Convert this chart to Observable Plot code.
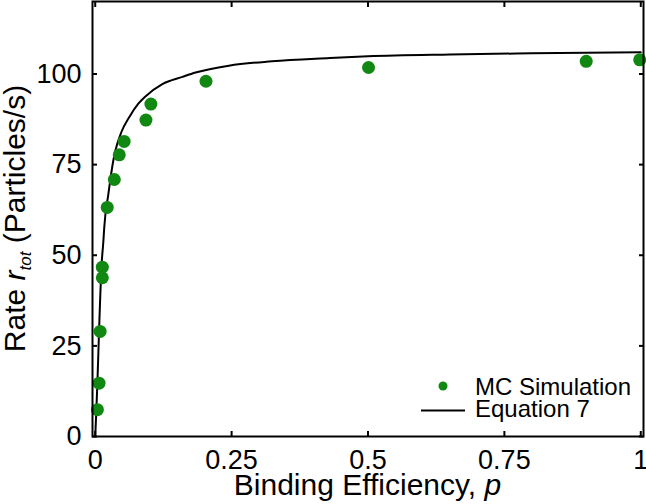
<!DOCTYPE html>
<html>
<head>
<meta charset="utf-8">
<script src="https://cdn.jsdelivr.net/npm/d3@7"></script>
<script src="https://cdn.jsdelivr.net/npm/@observablehq/plot@0.6"></script>
<style>
  html, body { margin: 0; padding: 0; background: #fff; }
  #chart { position: relative; width: 646px; height: 504px; }
  svg { font-family: "Liberation Sans", Arial, sans-serif; }
</style>
</head>
<body>
<div id="chart"></div>
<script>
// Monte Carlo simulation points (binding efficiency p, rate r_tot)
const simP = [0.004, 0.007, 0.009, 0.013, 0.013, 0.022, 0.035, 0.044, 0.053, 0.093, 0.102, 0.203, 0.501, 0.9, 0.998];
const simR = [7.4, 14.7, 29, 43.8, 46.7, 63.2, 70.9, 77.7, 81.4, 87.3, 91.7, 98.0, 101.8, 103.5, 103.9];

// Equation 7 curve
const eqP = [0, 0.002, 0.004, 0.007, 0.0115, 0.015, 0.0165, 0.024, 0.033, 0.037, 0.048, 0.062, 0.079, 0.092, 0.123, 0.16, 0.184, 0.245, 0.324, 0.43, 0.5, 0.65, 0.8, 1];
const eqR = [0, 7, 15, 29, 47, 54, 57.6, 66.8, 76, 78.9, 84, 88, 91.8, 93.8, 97.2, 99.2, 100.4, 102.3, 103.5, 104.4, 104.9, 105.4, 105.7, 106];

const xTicks = [0, 0.25, 0.5, 0.75, 1];
const xTickLabels = ["0", "0.25", "0.5", "0.75", "1"];
const yTicks = [0, 25, 50, 75, 100];
const yTickLabels = ["0", "25", "50", "75", "100"];

const legendLabels = ["MC Simulation", "Equation 7"];
const xLabel = "Binding Efficiency, ";
const xLabelItalic = "p";

const sim = simP.map((p, i) => ({p, r: simR[i]}));
const eq = eqP.map((p, i) => ({p, r: eqR[i]}));

const green = "#118811";
const W = 646, H = 504;
const mL = 92, mR = 3, mT = 1, mB = 68;

const plot = Plot.plot({
  width: W,
  height: H,
  marginLeft: mL,
  marginRight: mR,
  marginTop: mT,
  marginBottom: mB,
  style: {fontFamily: '"Liberation Sans", Arial, sans-serif', background: "#fff", color: "#000"},
  x: {domain: [-0.005, 1.005]},
  y: {domain: [0, 120]},
  marks: [
    Plot.line(eq, {x: "p", y: "r", stroke: "black", strokeWidth: 2, curve: "monotone-x"}),
    Plot.dot(sim, {x: "p", y: "r", r: 6.5, fill: green, stroke: "none"}),
    Plot.axisX(xTicks, {anchor: "bottom", tickSize: -5, tickPadding: 18, strokeWidth: 2,
      tickFormat: (d) => xTickLabels[xTicks.indexOf(d)], fontSize: 27, label: null}),
    Plot.axisX(xTicks, {anchor: "top", tickSize: -5, strokeWidth: 2, tickFormat: () => "", label: null}),
    Plot.axisY(yTicks, {anchor: "left", tickSize: -5, tickPadding: 16, strokeWidth: 2,
      tickFormat: (d) => yTickLabels[yTicks.indexOf(d)], fontSize: 27, label: null}),
    Plot.axisY(yTicks, {anchor: "right", tickSize: -5, strokeWidth: 2, tickFormat: () => "", label: null}),
    Plot.frame({stroke: "black", strokeWidth: 2})
  ]
});

document.getElementById("chart").appendChild(plot);

const svg = d3.select(plot);
const fam = '"Liberation Sans", Arial, sans-serif';

// x-axis label
const xl = svg.append("text")
  .attr("x", (mL + W - mR) / 2)
  .attr("y", 495)
  .attr("text-anchor", "middle")
  .attr("font-size", 30)
  .attr("font-family", fam)
  .attr("fill", "black");
xl.append("tspan").text(xLabel);
xl.append("tspan").attr("font-style", "italic").text(xLabelItalic);

// y-axis label
const yl = svg.append("text")
  .attr("transform", `translate(25,${(mT + H - mB) / 2}) rotate(-90)`)
  .attr("text-anchor", "middle")
  .attr("font-size", 30)
  .attr("font-family", fam)
  .attr("fill", "black");
yl.append("tspan").text("Rate ");
yl.append("tspan").attr("font-style", "italic").text("r");
yl.append("tspan").attr("font-style", "italic").attr("font-size", 17).attr("dy", 6).text("tot");
yl.append("tspan").attr("dy", -6).text(" (Particles/s)");

// legend
const lg = svg.append("g").attr("font-family", fam).attr("font-size", 24)
  .attr("fill", "black").attr("text-anchor", "start");
lg.append("circle").attr("cx", 443).attr("cy", 386).attr("r", 4.5).attr("fill", green);
lg.append("text").attr("x", 475).attr("y", 395).attr("text-anchor", "start").text(legendLabels[0]);
lg.append("line").attr("x1", 421).attr("x2", 465).attr("y1", 410.5).attr("y2", 410.5)
  .attr("stroke", "black").attr("stroke-width", 2);
lg.append("text").attr("x", 475).attr("y", 416.5).attr("text-anchor", "start").text(legendLabels[1]);
</script>
</body>
</html>
